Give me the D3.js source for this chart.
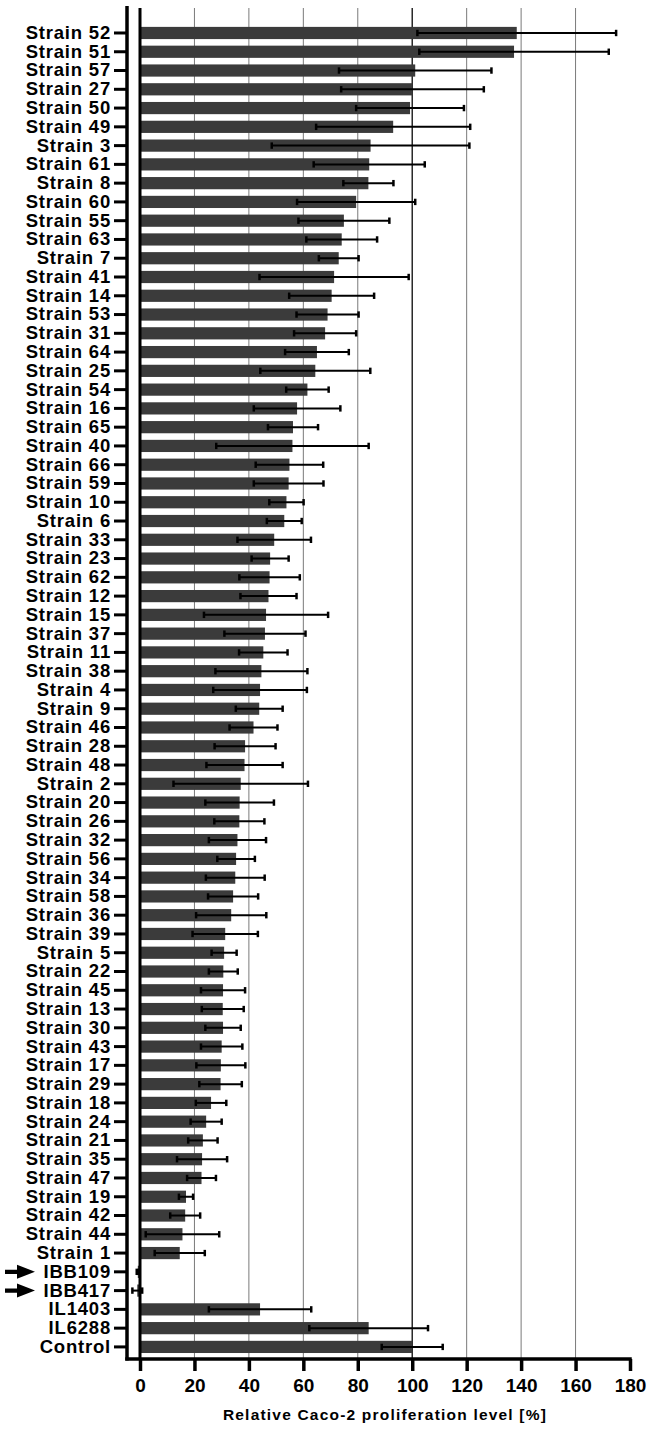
<!DOCTYPE html>
<html>
<head>
<meta charset="utf-8">
<script src="https://cdn.jsdelivr.net/npm/d3@7"></script>
<style>
  body { margin: 0; background: #fff; }
</style>
</head>
<body>
<div id="graph-container"></div>
<script>
// Categories, top to bottom
const categories = [
  "Strain 52", "Strain 51", "Strain 57", "Strain 27", "Strain 50", "Strain 49", "Strain 3",
  "Strain 61", "Strain 8", "Strain 60", "Strain 55", "Strain 63", "Strain 7", "Strain 41",
  "Strain 14", "Strain 53", "Strain 31", "Strain 64", "Strain 25", "Strain 54", "Strain 16",
  "Strain 65", "Strain 40", "Strain 66", "Strain 59", "Strain 10", "Strain 6", "Strain 33",
  "Strain 23", "Strain 62", "Strain 12", "Strain 15", "Strain 37", "Strain 11", "Strain 38",
  "Strain 4", "Strain 9", "Strain 46", "Strain 28", "Strain 48", "Strain 2", "Strain 20",
  "Strain 26", "Strain 32", "Strain 56", "Strain 34", "Strain 58", "Strain 36", "Strain 39",
  "Strain 5", "Strain 22", "Strain 45", "Strain 13", "Strain 30", "Strain 43", "Strain 17",
  "Strain 29", "Strain 18", "Strain 24", "Strain 21", "Strain 35", "Strain 47", "Strain 19",
  "Strain 42", "Strain 44", "Strain 1", "IBB109", "IBB417", "IL1403", "IL6288", "Control"
];

// Mean relative proliferation level [%]
const means = [
  138.4, 137.4, 101.1, 100.1, 99.2, 93.0, 84.7,
  84.2, 83.9, 79.4, 74.9, 74.1, 73.0, 71.3,
  70.4, 68.9, 68.0, 65.0, 64.4, 61.5, 57.7,
  56.2, 56.0, 54.9, 54.6, 53.8, 53.0, 49.3,
  47.8, 47.6, 47.2, 46.3, 45.9, 45.3, 44.6,
  44.1, 43.8, 41.7, 38.6, 38.4, 37.0, 36.6,
  36.5, 35.8, 35.3, 35.0, 34.2, 33.5, 31.3,
  30.9, 30.6, 30.5, 30.4, 30.5, 30.0, 29.7,
  29.6, 26.1, 24.3, 23.1, 22.8, 22.6, 16.9,
  16.6, 15.6, 14.6, -0.8, -1.0, 44.1, 84.0, 100.0
];

// Standard deviation
const errors = [
  36.5, 34.8, 28.0, 26.2, 19.8, 28.3, 36.3,
  20.4, 9.2, 21.7, 16.7, 13.0, 7.3, 27.4,
  15.6, 11.4, 11.4, 11.7, 20.2, 7.8, 15.9,
  9.2, 28.0, 12.4, 12.8, 6.3, 6.4, 13.5,
  6.8, 11.1, 10.3, 22.8, 14.9, 8.9, 16.9,
  17.2, 8.6, 8.8, 11.2, 14.0, 24.7, 12.6,
  9.2, 10.5, 6.9, 10.8, 9.2, 12.9, 12.0,
  4.6, 5.3, 8.1, 7.7, 6.5, 7.6, 9.0,
  7.8, 5.6, 5.7, 5.4, 9.2, 5.3, 2.6,
  5.5, 13.5, 9.2, 0.4, 1.8, 18.8, 21.8, 11.2
];

const xTicks = [0, 20, 40, 60, 80, 100, 120, 140, 160, 180];
const gridValues = [20, 40, 60, 80, 120, 140, 160];
const arrowed = ["IBB109", "IBB417"];

const width = 650;
const height = 1433;
const plotTop = 8;
const plotBottom = 1359;
const yAxisX = 127;
const font = "'Liberation Sans', Arial, Helvetica, sans-serif";

const svg = d3
  .select("#graph-container")
  .append("svg")
  .attr("width", width)
  .attr("height", height);

// Scales
const xScale = d3.scaleLinear().domain([0, 180]).range([140, 630]);

const yScale = d3
  .scaleBand()
  .domain(categories)
  .range([23.6, 1356.3])
  .paddingInner(0.35)
  .paddingOuter(0.175);

const data = categories.map((c, i) => ({ name: c, mean: means[i], sd: errors[i] }));

// Vertical grid lines
svg
  .selectAll(".grid")
  .data(gridValues)
  .enter()
  .append("line")
  .attr("class", "grid")
  .attr("x1", d => xScale(d))
  .attr("x2", d => xScale(d))
  .attr("y1", plotTop)
  .attr("y2", plotBottom)
  .attr("stroke", "#7a7a7a")
  .attr("stroke-width", 1);

// 100% reference line
svg
  .append("line")
  .attr("x1", xScale(100))
  .attr("x2", xScale(100))
  .attr("y1", plotTop)
  .attr("y2", plotBottom)
  .attr("stroke", "#1a1a1a")
  .attr("stroke-width", 1.4);

// Bars
svg
  .selectAll(".bar")
  .data(data)
  .enter()
  .append("rect")
  .attr("class", "bar")
  .attr("x", d => xScale(Math.min(0, d.mean)))
  .attr("y", d => yScale(d.name))
  .attr("width", d => Math.abs(xScale(d.mean) - xScale(0)))
  .attr("height", yScale.bandwidth())
  .attr("fill", "#3b3b3b");

// Error bars
const cy = d => yScale(d.name) + yScale.bandwidth() / 2;
const err = svg.append("g").attr("stroke", "#000");

err
  .selectAll(".err-line")
  .data(data)
  .enter()
  .append("line")
  .attr("x1", d => xScale(d.mean - d.sd))
  .attr("x2", d => xScale(d.mean + d.sd))
  .attr("y1", cy)
  .attr("y2", cy)
  .attr("stroke-width", 2);

["low", "high"].forEach(side => {
  err
    .selectAll(".cap-" + side)
    .data(data)
    .enter()
    .append("line")
    .attr("x1", d => xScale(side === "low" ? d.mean - d.sd : d.mean + d.sd))
    .attr("x2", d => xScale(side === "low" ? d.mean - d.sd : d.mean + d.sd))
    .attr("y1", d => cy(d) - 3.2)
    .attr("y2", d => cy(d) + 3.2)
    .attr("stroke-width", 2.5);
});

// Zero line
svg
  .append("line")
  .attr("x1", xScale(0))
  .attr("x2", xScale(0))
  .attr("y1", plotTop)
  .attr("y2", plotBottom)
  .attr("stroke", "#000")
  .attr("stroke-width", 3);

// Y axis (offset to the left of zero)
const yAxis = svg
  .append("g")
  .attr("transform", `translate(${yAxisX},0)`)
  .call(d3.axisLeft(yScale).tickSize(13).tickSizeOuter(0).tickPadding(3));

yAxis.select(".domain").remove();
yAxis.selectAll(".tick line").attr("stroke", "#000").attr("stroke-width", 3);
yAxis
  .selectAll(".tick text")
  .attr("font-family", font)
  .attr("font-weight", "bold")
  .attr("font-size", "18.5px")
  .attr("letter-spacing", "0.8px")
  .attr("fill", "#000");

svg
  .append("line")
  .attr("x1", yAxisX)
  .attr("x2", yAxisX)
  .attr("y1", 6)
  .attr("y2", plotBottom + 1.5)
  .attr("stroke", "#000")
  .attr("stroke-width", 3.5);

// X axis
const xAxis = svg
  .append("g")
  .attr("transform", `translate(0,${plotBottom})`)
  .call(d3.axisBottom(xScale).tickValues(xTicks).tickSize(12).tickSizeOuter(0).tickPadding(8));

xAxis.select(".domain").remove();
xAxis.selectAll(".tick line").attr("stroke", "#000").attr("stroke-width", 3.5);
xAxis
  .selectAll(".tick text")
  .attr("font-family", font)
  .attr("font-weight", "bold")
  .attr("font-size", "19px")
  .attr("fill", "#000");

svg
  .append("line")
  .attr("x1", yAxisX - 1.75)
  .attr("x2", xScale(180) + 1.75)
  .attr("y1", plotBottom)
  .attr("y2", plotBottom)
  .attr("stroke", "#000")
  .attr("stroke-width", 3.5);

// Axis title
svg
  .append("text")
  .attr("x", (xScale(0) + xScale(180)) / 2)
  .attr("y", 1420)
  .attr("text-anchor", "middle")
  .attr("font-family", font)
  .attr("font-weight", "bold")
  .attr("font-size", "15.5px")
  .attr("letter-spacing", "1.2px")
  .text("Relative Caco-2 proliferation level [%]");

// Arrows marking highlighted strains
svg
  .selectAll(".arrow")
  .data(arrowed)
  .enter()
  .append("path")
  .attr("class", "arrow")
  .attr("d", d => {
    const y = yScale(d) + yScale.bandwidth() / 2;
    return `M5,${y - 2.2}L17,${y - 2.2}L17,${y - 7}L35,${y}L17,${y + 7}L17,${y + 2.2}L5,${y + 2.2}Z`;
  })
  .attr("fill", "#000");
</script>
</body>
</html>
